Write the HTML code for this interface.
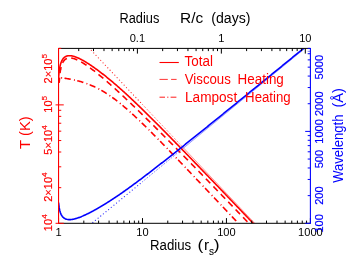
<!DOCTYPE html><html><head><meta charset="utf-8"><title>plot</title>
<style>html,body{margin:0;padding:0;background:#fff;}svg{display:block;font-family:"Liberation Sans",sans-serif;will-change:transform;}</style></head><body>
<svg width="352" height="272" viewBox="0 0 352 272">
<rect width="352" height="272" fill="#fff"/>
<defs><clipPath id="c"><rect x="58.55" y="48.40" width="251.85" height="174.90"/></clipPath></defs>
<g clip-path="url(#c)" fill="none" stroke-linejoin="round">
<path d="M58.55,15.73 L59.18,16.40 L59.81,17.07 L60.44,17.74 L61.07,18.41 L61.71,19.07 L62.34,19.74 L62.97,20.41 L63.60,21.08 L64.23,21.74 L64.86,22.41 L65.49,23.08 L66.12,23.75 L66.76,24.41 L67.39,25.08 L68.02,25.75 L68.65,26.42 L69.28,27.09 L69.91,27.75 L70.54,28.42 L71.17,29.09 L71.81,29.76 L72.44,30.42 L73.07,31.09 L73.70,31.76 L74.33,32.43 L74.96,33.09 L75.59,33.76 L76.22,34.43 L76.85,35.10 L77.49,35.77 L78.12,36.43 L78.75,37.10 L79.38,37.77 L80.01,38.44 L80.64,39.10 L81.27,39.77 L81.90,40.44 L82.54,41.11 L83.17,41.77 L83.80,42.44 L84.43,43.11 L85.06,43.78 L85.69,44.45 L86.32,45.11 L86.95,45.78 L87.59,46.45 L88.22,47.12 L88.85,47.78 L89.48,48.45 L90.11,49.12 L90.74,49.79 L91.37,50.45 L92.00,51.12 L92.63,51.79 L93.27,52.46 L93.90,53.13 L94.53,53.79 L95.16,54.46 L95.79,55.13 L96.42,55.80 L97.05,56.46 L97.68,57.13 L98.32,57.80 L98.95,58.47 L99.58,59.13 L100.21,59.80 L100.84,60.47 L101.47,61.14 L102.10,61.81 L102.73,62.47 L103.37,63.14 L104.00,63.81 L104.63,64.48 L105.26,65.14 L105.89,65.81 L106.52,66.48 L107.15,67.15 L107.78,67.82 L108.42,68.48 L109.05,69.15 L109.68,69.82 L110.31,70.49 L110.94,71.15 L111.57,71.82 L112.20,72.49 L112.83,73.16 L113.46,73.82 L114.10,74.49 L114.73,75.16 L115.36,75.83 L115.99,76.50 L116.62,77.16 L117.25,77.83 L117.88,78.50 L118.51,79.17 L119.15,79.83 L119.78,80.50 L120.41,81.17 L121.04,81.84 L121.67,82.50 L122.30,83.17 L122.93,83.84 L123.56,84.51 L124.20,85.18 L124.83,85.84 L125.46,86.51 L126.09,87.18 L126.72,87.85 L127.35,88.51 L127.98,89.18 L128.61,89.85 L129.24,90.52 L129.88,91.18 L130.51,91.85 L131.14,92.52 L131.77,93.19 L132.40,93.86 L133.03,94.52 L133.66,95.19 L134.29,95.86 L134.93,96.53 L135.56,97.19 L136.19,97.86 L136.82,98.53 L137.45,99.20 L138.08,99.86 L138.71,100.53 L139.34,101.20 L139.98,101.87 L140.61,102.54 L141.24,103.20 L141.87,103.87 L142.50,104.54" stroke="#f00" stroke-width="1.2" stroke-dasharray="0.01 3.4" stroke-linecap="round" stroke-opacity="0.8"/>
<path d="M142.50,104.54 L143.13,105.21 L143.76,105.87 L144.39,106.54 L145.02,107.21 L145.66,107.88 L146.29,108.55 L146.92,109.21 L147.55,109.88 L148.18,110.55 L148.81,111.22 L149.44,111.88 L150.07,112.55 L150.71,113.22 L151.34,113.89 L151.97,114.55 L152.60,115.22 L153.23,115.89 L153.86,116.56 L154.49,117.23 L155.12,117.89 L155.76,118.56 L156.39,119.23 L157.02,119.90 L157.65,120.56 L158.28,121.23 L158.91,121.90 L159.54,122.57 L160.17,123.23 L160.80,123.90 L161.44,124.57 L162.07,125.24 L162.70,125.91 L163.33,126.57 L163.96,127.24 L164.59,127.91 L165.22,128.58 L165.85,129.24 L166.49,129.91 L167.12,130.58 L167.75,131.25 L168.38,131.91 L169.01,132.58 L169.64,133.25 L170.27,133.92 L170.90,134.59 L171.54,135.25 L172.17,135.92 L172.80,136.59 L173.43,137.26 L174.06,137.92 L174.69,138.59 L175.32,139.26 L175.95,139.93 L176.58,140.59 L177.22,141.26 L177.85,141.93 L178.48,142.60 L179.11,143.27 L179.74,143.93" stroke="#f00" stroke-width="1.0" stroke-dasharray="0.01 2.2" stroke-linecap="round" stroke-opacity="0.75"/>
<path d="M180.37,144.60 L181.00,145.27 L181.63,145.94 L182.27,146.60 L182.90,147.27 L183.53,147.94 L184.16,148.61 L184.79,149.27 L185.42,149.94 L186.05,150.61 L186.68,151.28 L187.32,151.95 L187.95,152.61 L188.58,153.28 L189.21,153.95 L189.84,154.62 L190.47,155.28 L191.10,155.95 L191.73,156.62 L192.37,157.29 L193.00,157.96 L193.63,158.62 L194.26,159.29 L194.89,159.96 L195.52,160.63 L196.15,161.29 L196.78,161.96 L197.41,162.63 L198.05,163.30 L198.68,163.96 L199.31,164.63 L199.94,165.30 L200.57,165.97 L201.20,166.64 L201.83,167.30 L202.46,167.97 L203.10,168.64 L203.73,169.31 L204.36,169.97 L204.99,170.64 L205.62,171.31 L206.25,171.98 L206.88,172.64 L207.51,173.31 L208.15,173.98 L208.78,174.65 L209.41,175.32 L210.04,175.98 L210.67,176.65 L211.30,177.32 L211.93,177.99 L212.56,178.65 L213.19,179.32 L213.83,179.99 L214.46,180.66 L215.09,181.32 L215.72,181.99 L216.35,182.66 L216.98,183.33 L217.61,184.00 L218.24,184.66 L218.88,185.33 L219.51,186.00 L220.14,186.67 L220.77,187.33 L221.40,188.00 L222.03,188.67 L222.66,189.34 L223.29,190.00 L223.93,190.67 L224.56,191.34 L225.19,192.01 L225.82,192.68 L226.45,193.34 L227.08,194.01 L227.71,194.68 L228.34,195.35 L228.97,196.01 L229.61,196.68 L230.24,197.35 L230.87,198.02 L231.50,198.68 L232.13,199.35 L232.76,200.02 L233.39,200.69 L234.02,201.36 L234.66,202.02 L235.29,202.69 L235.92,203.36 L236.55,204.03 L237.18,204.69 L237.81,205.36 L238.44,206.03 L239.07,206.70 L239.71,207.37 L240.34,208.03 L240.97,208.70 L241.60,209.37 L242.23,210.04 L242.86,210.70 L243.49,211.37 L244.12,212.04 L244.75,212.71 L245.39,213.37 L246.02,214.04 L246.65,214.71 L247.28,215.38 L247.91,216.05 L248.54,216.71 L249.17,217.38 L249.80,218.05 L250.44,218.72 L251.07,219.38 L251.70,220.05 L252.33,220.72 L252.96,221.39 L253.59,222.05 L254.22,222.72 L254.85,223.39 L255.49,224.06 L256.12,224.73 L256.75,225.39 L257.38,226.06 L258.01,226.73 L258.64,227.40 L259.27,228.06 L259.90,228.73 L260.53,229.40 L261.17,230.07 L261.80,230.73 L262.43,231.40 L263.06,232.07 L263.69,232.74 L264.32,233.41 L264.95,234.07 L265.58,234.74 L266.22,235.41 L266.85,236.08 L267.48,236.74 L268.11,237.41 L268.74,238.08 L269.37,238.75 L270.00,239.41 L270.63,240.08 L271.27,240.75 L271.90,241.42 L272.53,242.09 L273.16,242.75 L273.79,243.42 L274.42,244.09 L275.05,244.76 L275.68,245.42 L276.32,246.09 L276.95,246.76 L277.58,247.43 L278.21,248.09 L278.84,248.76 L279.47,249.43 L280.10,250.10 L280.73,250.77 L281.36,251.43 L282.00,252.10 L282.63,252.77 L283.26,253.44 L283.89,254.10 L284.52,254.77 L285.15,255.44 L285.78,256.11 L286.41,256.78 L287.05,257.44 L287.68,258.11 L288.31,258.78 L288.94,259.45 L289.57,260.11 L290.20,260.78 L290.83,261.45 L291.46,262.12 L292.10,262.78 L292.73,263.45 L293.36,264.12 L293.99,264.79 L294.62,265.46 L295.25,266.12 L295.88,266.79 L296.51,267.46 L297.14,268.13 L297.78,268.79 L298.41,269.46 L299.04,270.13 L299.67,270.80 L300.30,271.46 L300.93,272.13 L301.56,272.80 L302.19,273.47 L302.83,274.14 L303.46,274.80 L304.09,275.47 L304.72,276.14 L305.35,276.81 L305.98,277.47 L306.61,278.14 L307.24,278.81 L307.88,279.48 L308.51,280.14 L309.14,280.81 L309.77,281.48 L310.40,282.15" stroke="#f00" stroke-width="0.8" stroke-opacity="0.55"/>
<path d="M58.55,250.63 L59.18,250.11 L59.81,249.59 L60.44,249.08 L61.07,248.56 L61.71,248.04 L62.34,247.52 L62.97,247.00 L63.60,246.49 L64.23,245.97 L64.86,245.45 L65.49,244.93 L66.12,244.41 L66.76,243.89 L67.39,243.38 L68.02,242.86 L68.65,242.34 L69.28,241.82 L69.91,241.30 L70.54,240.78 L71.17,240.27 L71.81,239.75 L72.44,239.23 L73.07,238.71 L73.70,238.19 L74.33,237.68 L74.96,237.16 L75.59,236.64 L76.22,236.12 L76.85,235.60 L77.49,235.08 L78.12,234.57 L78.75,234.05 L79.38,233.53 L80.01,233.01 L80.64,232.49 L81.27,231.97 L81.90,231.46 L82.54,230.94 L83.17,230.42 L83.80,229.90 L84.43,229.38 L85.06,228.86 L85.69,228.35 L86.32,227.83 L86.95,227.31 L87.59,226.79 L88.22,226.27 L88.85,225.76 L89.48,225.24 L90.11,224.72 L90.74,224.20 L91.37,223.68 L92.00,223.16 L92.63,222.65 L93.27,222.13 L93.90,221.61 L94.53,221.09 L95.16,220.57 L95.79,220.05 L96.42,219.54 L97.05,219.02 L97.68,218.50 L98.32,217.98 L98.95,217.46 L99.58,216.95 L100.21,216.43 L100.84,215.91 L101.47,215.39 L102.10,214.87 L102.73,214.35 L103.37,213.84 L104.00,213.32 L104.63,212.80 L105.26,212.28 L105.89,211.76 L106.52,211.24 L107.15,210.73 L107.78,210.21 L108.42,209.69 L109.05,209.17 L109.68,208.65 L110.31,208.13 L110.94,207.62 L111.57,207.10 L112.20,206.58 L112.83,206.06 L113.46,205.54 L114.10,205.03 L114.73,204.51 L115.36,203.99 L115.99,203.47 L116.62,202.95 L117.25,202.43 L117.88,201.92 L118.51,201.40 L119.15,200.88 L119.78,200.36 L120.41,199.84 L121.04,199.32 L121.67,198.81 L122.30,198.29 L122.93,197.77 L123.56,197.25 L124.20,196.73 L124.83,196.22 L125.46,195.70 L126.09,195.18 L126.72,194.66 L127.35,194.14 L127.98,193.62 L128.61,193.11 L129.24,192.59 L129.88,192.07 L130.51,191.55 L131.14,191.03 L131.77,190.51 L132.40,190.00 L133.03,189.48 L133.66,188.96 L134.29,188.44 L134.93,187.92 L135.56,187.40 L136.19,186.89 L136.82,186.37 L137.45,185.85 L138.08,185.33 L138.71,184.81 L139.34,184.30 L139.98,183.78 L140.61,183.26 L141.24,182.74 L141.87,182.22 L142.50,181.70" stroke="#00f" stroke-width="1.2" stroke-dasharray="0.01 3.4" stroke-linecap="round" stroke-opacity="0.8"/>
<path d="M142.50,181.70 L143.13,181.19 L143.76,180.67 L144.39,180.15 L145.02,179.63 L145.66,179.11 L146.29,178.59 L146.92,178.08 L147.55,177.56 L148.18,177.04 L148.81,176.52 L149.44,176.00 L150.07,175.49 L150.71,174.97 L151.34,174.45 L151.97,173.93 L152.60,173.41 L153.23,172.89 L153.86,172.38 L154.49,171.86 L155.12,171.34 L155.76,170.82 L156.39,170.30 L157.02,169.78 L157.65,169.27 L158.28,168.75 L158.91,168.23 L159.54,167.71 L160.17,167.19 L160.80,166.67 L161.44,166.16 L162.07,165.64 L162.70,165.12 L163.33,164.60 L163.96,164.08 L164.59,163.57 L165.22,163.05 L165.85,162.53 L166.49,162.01 L167.12,161.49 L167.75,160.97 L168.38,160.46 L169.01,159.94 L169.64,159.42 L170.27,158.90 L170.90,158.38 L171.54,157.86 L172.17,157.35 L172.80,156.83 L173.43,156.31 L174.06,155.79 L174.69,155.27 L175.32,154.76 L175.95,154.24 L176.58,153.72 L177.22,153.20 L177.85,152.68 L178.48,152.16 L179.11,151.65 L179.74,151.13" stroke="#00f" stroke-width="1.0" stroke-dasharray="0.01 2.2" stroke-linecap="round" stroke-opacity="0.75"/>
<path d="M180.37,150.61 L181.00,150.09 L181.63,149.57 L182.27,149.05 L182.90,148.54 L183.53,148.02 L184.16,147.50 L184.79,146.98 L185.42,146.46 L186.05,145.94 L186.68,145.43 L187.32,144.91 L187.95,144.39 L188.58,143.87 L189.21,143.35 L189.84,142.84 L190.47,142.32 L191.10,141.80 L191.73,141.28 L192.37,140.76 L193.00,140.24 L193.63,139.73 L194.26,139.21 L194.89,138.69 L195.52,138.17 L196.15,137.65 L196.78,137.13 L197.41,136.62 L198.05,136.10 L198.68,135.58 L199.31,135.06 L199.94,134.54 L200.57,134.02 L201.20,133.51 L201.83,132.99 L202.46,132.47 L203.10,131.95 L203.73,131.43 L204.36,130.92 L204.99,130.40 L205.62,129.88 L206.25,129.36 L206.88,128.84 L207.51,128.32 L208.15,127.81 L208.78,127.29 L209.41,126.77 L210.04,126.25 L210.67,125.73 L211.30,125.21 L211.93,124.70 L212.56,124.18 L213.19,123.66 L213.83,123.14 L214.46,122.62 L215.09,122.11 L215.72,121.59 L216.35,121.07 L216.98,120.55 L217.61,120.03 L218.24,119.51 L218.88,119.00 L219.51,118.48 L220.14,117.96 L220.77,117.44 L221.40,116.92 L222.03,116.40 L222.66,115.89 L223.29,115.37 L223.93,114.85 L224.56,114.33 L225.19,113.81 L225.82,113.29 L226.45,112.78 L227.08,112.26 L227.71,111.74 L228.34,111.22 L228.97,110.70 L229.61,110.19 L230.24,109.67 L230.87,109.15 L231.50,108.63 L232.13,108.11 L232.76,107.59 L233.39,107.08 L234.02,106.56 L234.66,106.04 L235.29,105.52 L235.92,105.00 L236.55,104.48 L237.18,103.97 L237.81,103.45 L238.44,102.93 L239.07,102.41 L239.71,101.89 L240.34,101.38 L240.97,100.86 L241.60,100.34 L242.23,99.82 L242.86,99.30 L243.49,98.78 L244.12,98.27 L244.75,97.75 L245.39,97.23 L246.02,96.71 L246.65,96.19 L247.28,95.67 L247.91,95.16 L248.54,94.64 L249.17,94.12 L249.80,93.60 L250.44,93.08 L251.07,92.56 L251.70,92.05 L252.33,91.53 L252.96,91.01 L253.59,90.49 L254.22,89.97 L254.85,89.46 L255.49,88.94 L256.12,88.42 L256.75,87.90 L257.38,87.38 L258.01,86.86 L258.64,86.35 L259.27,85.83 L259.90,85.31 L260.53,84.79 L261.17,84.27 L261.80,83.75 L262.43,83.24 L263.06,82.72 L263.69,82.20 L264.32,81.68 L264.95,81.16 L265.58,80.65 L266.22,80.13 L266.85,79.61 L267.48,79.09 L268.11,78.57 L268.74,78.05 L269.37,77.54 L270.00,77.02 L270.63,76.50 L271.27,75.98 L271.90,75.46 L272.53,74.94 L273.16,74.43 L273.79,73.91 L274.42,73.39 L275.05,72.87 L275.68,72.35 L276.32,71.83 L276.95,71.32 L277.58,70.80 L278.21,70.28 L278.84,69.76 L279.47,69.24 L280.10,68.73 L280.73,68.21 L281.36,67.69 L282.00,67.17 L282.63,66.65 L283.26,66.13 L283.89,65.62 L284.52,65.10 L285.15,64.58 L285.78,64.06 L286.41,63.54 L287.05,63.02 L287.68,62.51 L288.31,61.99 L288.94,61.47 L289.57,60.95 L290.20,60.43 L290.83,59.92 L291.46,59.40 L292.10,58.88 L292.73,58.36 L293.36,57.84 L293.99,57.32 L294.62,56.81 L295.25,56.29 L295.88,55.77 L296.51,55.25 L297.14,54.73 L297.78,54.21 L298.41,53.70 L299.04,53.18 L299.67,52.66 L300.30,52.14 L300.93,51.62 L301.56,51.10 L302.19,50.59 L302.83,50.07 L303.46,49.55 L304.09,49.03 L304.72,48.51 L305.35,48.00 L305.98,47.48 L306.61,46.96 L307.24,46.44 L307.88,45.92 L308.51,45.40 L309.14,44.89 L309.77,44.37 L310.40,43.85" stroke="#00f" stroke-width="0.8" stroke-opacity="0.55"/>
<path d="M58.55,77.52 L59.18,77.58 L59.81,77.65 L60.44,77.73 L61.07,77.80 L61.71,77.88 L62.34,77.96 L62.97,78.04 L63.60,78.12 L64.23,78.21 L64.86,78.30 L65.49,78.39 L66.12,78.48 L66.76,78.58 L67.39,78.68 L68.02,78.79 L68.65,78.89 L69.28,79.00 L69.91,79.12 L70.54,79.23 L71.17,79.35 L71.81,79.47 L72.44,79.60 L73.07,79.73 L73.70,79.87 L74.33,80.00 L74.96,80.14 L75.59,80.29 L76.22,80.44 L76.85,80.59 L77.49,80.75 L78.12,80.91 L78.75,81.08 L79.38,81.25 L80.01,81.42 L80.64,81.60 L81.27,81.79 L81.90,81.97 L82.54,82.17 L83.17,82.37 L83.80,82.57 L84.43,82.78 L85.06,82.99 L85.69,83.21 L86.32,83.43 L86.95,83.66 L87.59,83.89 L88.22,84.13 L88.85,84.37 L89.48,84.62 L90.11,84.88 L90.74,85.14 L91.37,85.40 L92.00,85.67 L92.63,85.95 L93.27,86.23 L93.90,86.52 L94.53,86.82 L95.16,87.11 L95.79,87.42 L96.42,87.73 L97.05,88.05 L97.68,88.37 L98.32,88.70 L98.95,89.03 L99.58,89.37 L100.21,89.72 L100.84,90.07 L101.47,90.43 L102.10,90.79 L102.73,91.16 L103.37,91.53 L104.00,91.91 L104.63,92.30 L105.26,92.69 L105.89,93.09 L106.52,93.49 L107.15,93.90 L107.78,94.31 L108.42,94.73 L109.05,95.15 L109.68,95.58 L110.31,96.02 L110.94,96.46 L111.57,96.90 L112.20,97.35 L112.83,97.81 L113.46,98.27 L114.10,98.74 L114.73,99.21 L115.36,99.68 L115.99,100.16 L116.62,100.64 L117.25,101.13 L117.88,101.63 L118.51,102.12 L119.15,102.63 L119.78,103.13 L120.41,103.64 L121.04,104.16 L121.67,104.68 L122.30,105.20 L122.93,105.73 L123.56,106.26 L124.20,106.79 L124.83,107.33 L125.46,107.87 L126.09,108.42 L126.72,108.96 L127.35,109.52 L127.98,110.07 L128.61,110.63 L129.24,111.19 L129.88,111.75 L130.51,112.32 L131.14,112.89 L131.77,113.46 L132.40,114.04 L133.03,114.62 L133.66,115.20 L134.29,115.78 L134.93,116.37 L135.56,116.96 L136.19,117.55 L136.82,118.14 L137.45,118.74 L138.08,119.34 L138.71,119.94 L139.34,120.54 L139.98,121.14 L140.61,121.75 L141.24,122.36 L141.87,122.97 L142.50,123.58 L143.13,124.19 L143.76,124.81 L144.39,125.43 L145.02,126.04 L145.66,126.66 L146.29,127.29 L146.92,127.91 L147.55,128.53 L148.18,129.16 L148.81,129.79 L149.44,130.41 L150.07,131.04 L150.71,131.67 L151.34,132.31 L151.97,132.94 L152.60,133.57 L153.23,134.21 L153.86,134.85 L154.49,135.48 L155.12,136.12 L155.76,136.76 L156.39,137.40 L157.02,138.04 L157.65,138.68 L158.28,139.33 L158.91,139.97 L159.54,140.62 L160.17,141.26 L160.80,141.91 L161.44,142.55 L162.07,143.20 L162.70,143.85 L163.33,144.50 L163.96,145.15 L164.59,145.80 L165.22,146.45 L165.85,147.10 L166.49,147.75 L167.12,148.40 L167.75,149.06 L168.38,149.71 L169.01,150.36 L169.64,151.02 L170.27,151.67 L170.90,152.33 L171.54,152.98 L172.17,153.64 L172.80,154.29 L173.43,154.95 L174.06,155.61 L174.69,156.27 L175.32,156.92 L175.95,157.58 L176.58,158.24 L177.22,158.90 L177.85,159.56 L178.48,160.22 L179.11,160.88 L179.74,161.54 L180.37,162.20 L181.00,162.86 L181.63,163.52 L182.27,164.18 L182.90,164.84 L183.53,165.50 L184.16,166.16 L184.79,166.82 L185.42,167.49 L186.05,168.15 L186.68,168.81 L187.32,169.47 L187.95,170.14 L188.58,170.80 L189.21,171.46 L189.84,172.12 L190.47,172.79 L191.10,173.45 L191.73,174.12 L192.37,174.78 L193.00,175.44 L193.63,176.11 L194.26,176.77 L194.89,177.44 L195.52,178.10 L196.15,178.76 L196.78,179.43 L197.41,180.09 L198.05,180.76 L198.68,181.42 L199.31,182.09 L199.94,182.75 L200.57,183.42 L201.20,184.08 L201.83,184.75 L202.46,185.41 L203.10,186.08 L203.73,186.75 L204.36,187.41 L204.99,188.08 L205.62,188.74 L206.25,189.41 L206.88,190.07 L207.51,190.74 L208.15,191.41 L208.78,192.07 L209.41,192.74 L210.04,193.41 L210.67,194.07 L211.30,194.74 L211.93,195.40 L212.56,196.07 L213.19,196.74 L213.83,197.40 L214.46,198.07 L215.09,198.74 L215.72,199.40 L216.35,200.07 L216.98,200.74 L217.61,201.40 L218.24,202.07 L218.88,202.74 L219.51,203.40 L220.14,204.07 L220.77,204.74 L221.40,205.40 L222.03,206.07 L222.66,206.74 L223.29,207.40 L223.93,208.07 L224.56,208.74 L225.19,209.41 L225.82,210.07 L226.45,210.74 L227.08,211.41 L227.71,212.07 L228.34,212.74 L228.97,213.41 L229.61,214.08 L230.24,214.74 L230.87,215.41 L231.50,216.08 L232.13,216.74 L232.76,217.41 L233.39,218.08 L234.02,218.75 L234.66,219.41 L235.29,220.08 L235.92,220.75 L236.55,221.42 L237.18,222.08 L237.81,222.75 L238.44,223.42 L239.07,224.09 L239.71,224.75 L240.34,225.42 L240.97,226.09 L241.60,226.76 L242.23,227.42 L242.86,228.09 L243.49,228.76 L244.12,229.43 L244.75,230.09 L245.39,230.76 L246.02,231.43 L246.65,232.10 L247.28,232.76 L247.91,233.43 L248.54,234.10 L249.17,234.77 L249.80,235.43 L250.44,236.10 L251.07,236.77 L251.70,237.44 L252.33,238.10 L252.96,238.77 L253.59,239.44 L254.22,240.11 L254.85,240.77 L255.49,241.44 L256.12,242.11 L256.75,242.78 L257.38,243.44 L258.01,244.11 L258.64,244.78 L259.27,245.45 L259.90,246.11 L260.53,246.78 L261.17,247.45 L261.80,248.12 L262.43,248.78 L263.06,249.45 L263.69,250.12 L264.32,250.79 L264.95,251.45 L265.58,252.12 L266.22,252.79 L266.85,253.46 L267.48,254.13 L268.11,254.79 L268.74,255.46 L269.37,256.13 L270.00,256.80 L270.63,257.46 L271.27,258.13 L271.90,258.80 L272.53,259.47 L273.16,260.13 L273.79,260.80 L274.42,261.47 L275.05,262.14 L275.68,262.80 L276.32,263.47 L276.95,264.14 L277.58,264.81 L278.21,265.48 L278.84,266.14 L279.47,266.81 L280.10,267.48 L280.73,268.15 L281.36,268.81 L282.00,269.48 L282.63,270.15 L283.26,270.82 L283.89,271.48 L284.52,272.15 L285.15,272.82 L285.78,273.49 L286.41,274.16 L287.05,274.82 L287.68,275.49 L288.31,276.16 L288.94,276.83 L289.57,277.49 L290.20,278.16 L290.83,278.83 L291.46,279.50 L292.10,280.16 L292.73,280.83 L293.36,281.50 L293.99,282.17 L294.62,282.84 L295.25,283.50 L295.88,284.17 L296.51,284.84 L297.14,285.51 L297.78,286.17 L298.41,286.84 L299.04,287.51 L299.67,288.18 L300.30,288.84 L300.93,289.51 L301.56,290.18 L302.19,290.85 L302.83,291.52 L303.46,292.18 L304.09,292.85 L304.72,293.52 L305.35,294.19 L305.98,294.85 L306.61,295.52 L307.24,296.19 L307.88,296.86 L308.51,297.52 L309.14,298.19 L309.77,298.86 L310.40,299.53" stroke="#f00" stroke-width="1.6" stroke-dasharray="6.3 3.3 1 2.4" stroke-dashoffset="7"/>
<path d="M59.18,82.83 L59.81,74.64 L60.44,70.15 L61.07,67.18 L61.71,65.03 L62.34,63.41 L62.97,62.15 L63.60,61.16 L64.23,60.37 L64.86,59.73 L65.49,59.23 L66.12,58.83 L66.76,58.53 L67.39,58.30 L68.02,58.13 L68.65,58.02 L69.28,57.97 L69.91,57.95 L70.54,57.98 L71.17,58.04 L71.81,58.14 L72.44,58.26 L73.07,58.41 L73.70,58.59 L74.33,58.78 L74.96,59.00 L75.59,59.24 L76.22,59.49 L76.85,59.76 L77.49,60.04 L78.12,60.34 L78.75,60.66 L79.38,60.98 L80.01,61.32 L80.64,61.67 L81.27,62.03 L81.90,62.39 L82.54,62.77 L83.17,63.16 L83.80,63.55 L84.43,63.95 L85.06,64.36 L85.69,64.78 L86.32,65.21 L86.95,65.64 L87.59,66.07 L88.22,66.52 L88.85,66.97 L89.48,67.42 L90.11,67.88 L90.74,68.35 L91.37,68.81 L92.00,69.29 L92.63,69.77 L93.27,70.25 L93.90,70.74 L94.53,71.23 L95.16,71.72 L95.79,72.22 L96.42,72.73 L97.05,73.23 L97.68,73.74 L98.32,74.25 L98.95,74.77 L99.58,75.29 L100.21,75.81 L100.84,76.34 L101.47,76.86 L102.10,77.39 L102.73,77.93 L103.37,78.46 L104.00,79.00 L104.63,79.54 L105.26,80.08 L105.89,80.63 L106.52,81.17 L107.15,81.72 L107.78,82.27 L108.42,82.83 L109.05,83.38 L109.68,83.94 L110.31,84.50 L110.94,85.06 L111.57,85.62 L112.20,86.19 L112.83,86.75 L113.46,87.32 L114.10,87.89 L114.73,88.46 L115.36,89.03 L115.99,89.61 L116.62,90.18 L117.25,90.76 L117.88,91.34 L118.51,91.92 L119.15,92.50 L119.78,93.08 L120.41,93.67 L121.04,94.25 L121.67,94.84 L122.30,95.43 L122.93,96.01 L123.56,96.60 L124.20,97.19 L124.83,97.79 L125.46,98.38 L126.09,98.97 L126.72,99.57 L127.35,100.17 L127.98,100.76 L128.61,101.36 L129.24,101.96 L129.88,102.56 L130.51,103.16 L131.14,103.76 L131.77,104.37 L132.40,104.97 L133.03,105.58 L133.66,106.18 L134.29,106.79 L134.93,107.39 L135.56,108.00 L136.19,108.61 L136.82,109.22 L137.45,109.83 L138.08,110.44 L138.71,111.05 L139.34,111.67 L139.98,112.28 L140.61,112.89 L141.24,113.51 L141.87,114.12 L142.50,114.74 L143.13,115.36 L143.76,115.97 L144.39,116.59 L145.02,117.21 L145.66,117.83 L146.29,118.45 L146.92,119.07 L147.55,119.69 L148.18,120.31 L148.81,120.93 L149.44,121.55 L150.07,122.18 L150.71,122.80 L151.34,123.43 L151.97,124.05 L152.60,124.68 L153.23,125.30 L153.86,125.93 L154.49,126.55 L155.12,127.18 L155.76,127.81 L156.39,128.44 L157.02,129.07 L157.65,129.69 L158.28,130.32 L158.91,130.95 L159.54,131.58 L160.17,132.21 L160.80,132.85 L161.44,133.48 L162.07,134.11 L162.70,134.74 L163.33,135.37 L163.96,136.01 L164.59,136.64 L165.22,137.28 L165.85,137.91 L166.49,138.54 L167.12,139.18 L167.75,139.82 L168.38,140.45 L169.01,141.09 L169.64,141.72 L170.27,142.36 L170.90,143.00 L171.54,143.64 L172.17,144.27 L172.80,144.91 L173.43,145.55 L174.06,146.19 L174.69,146.83 L175.32,147.47 L175.95,148.11 L176.58,148.75 L177.22,149.39 L177.85,150.03 L178.48,150.67 L179.11,151.31 L179.74,151.95 L180.37,152.59 L181.00,153.24 L181.63,153.88 L182.27,154.52 L182.90,155.16 L183.53,155.81 L184.16,156.45 L184.79,157.09 L185.42,157.74 L186.05,158.38 L186.68,159.03 L187.32,159.67 L187.95,160.32 L188.58,160.96 L189.21,161.61 L189.84,162.25 L190.47,162.90 L191.10,163.54 L191.73,164.19 L192.37,164.84 L193.00,165.48 L193.63,166.13 L194.26,166.78 L194.89,167.42 L195.52,168.07 L196.15,168.72 L196.78,169.37 L197.41,170.02 L198.05,170.66 L198.68,171.31 L199.31,171.96 L199.94,172.61 L200.57,173.26 L201.20,173.91 L201.83,174.56 L202.46,175.21 L203.10,175.86 L203.73,176.51 L204.36,177.16 L204.99,177.81 L205.62,178.46 L206.25,179.11 L206.88,179.76 L207.51,180.41 L208.15,181.06 L208.78,181.71 L209.41,182.36 L210.04,183.02 L210.67,183.67 L211.30,184.32 L211.93,184.97 L212.56,185.62 L213.19,186.28 L213.83,186.93 L214.46,187.58 L215.09,188.24 L215.72,188.89 L216.35,189.54 L216.98,190.20 L217.61,190.85 L218.24,191.50 L218.88,192.16 L219.51,192.81 L220.14,193.46 L220.77,194.12 L221.40,194.77 L222.03,195.43 L222.66,196.08 L223.29,196.74 L223.93,197.39 L224.56,198.05 L225.19,198.70 L225.82,199.36 L226.45,200.01 L227.08,200.67 L227.71,201.32 L228.34,201.98 L228.97,202.63 L229.61,203.29 L230.24,203.95 L230.87,204.60 L231.50,205.26 L232.13,205.91 L232.76,206.57 L233.39,207.23 L234.02,207.88 L234.66,208.54 L235.29,209.20 L235.92,209.85 L236.55,210.51 L237.18,211.17 L237.81,211.83 L238.44,212.48 L239.07,213.14 L239.71,213.80 L240.34,214.46 L240.97,215.11 L241.60,215.77 L242.23,216.43 L242.86,217.09 L243.49,217.74 L244.12,218.40 L244.75,219.06 L245.39,219.72 L246.02,220.38 L246.65,221.04 L247.28,221.70 L247.91,222.35 L248.54,223.01 L249.17,223.67 L249.80,224.33 L250.44,224.99 L251.07,225.65 L251.70,226.31 L252.33,226.97 L252.96,227.63 L253.59,228.29 L254.22,228.95 L254.85,229.60 L255.49,230.26 L256.12,230.92 L256.75,231.58 L257.38,232.24 L258.01,232.90 L258.64,233.56 L259.27,234.22 L259.90,234.88 L260.53,235.54 L261.17,236.20 L261.80,236.87 L262.43,237.53 L263.06,238.19 L263.69,238.85 L264.32,239.51 L264.95,240.17 L265.58,240.83 L266.22,241.49 L266.85,242.15 L267.48,242.81 L268.11,243.47 L268.74,244.13 L269.37,244.79 L270.00,245.46 L270.63,246.12 L271.27,246.78 L271.90,247.44 L272.53,248.10 L273.16,248.76 L273.79,249.42 L274.42,250.09 L275.05,250.75 L275.68,251.41 L276.32,252.07 L276.95,252.73 L277.58,253.39 L278.21,254.06 L278.84,254.72 L279.47,255.38 L280.10,256.04 L280.73,256.70 L281.36,257.37 L282.00,258.03 L282.63,258.69 L283.26,259.35 L283.89,260.02 L284.52,260.68 L285.15,261.34 L285.78,262.00 L286.41,262.67 L287.05,263.33 L287.68,263.99 L288.31,264.65 L288.94,265.32 L289.57,265.98 L290.20,266.64 L290.83,267.31 L291.46,267.97 L292.10,268.63 L292.73,269.29 L293.36,269.96 L293.99,270.62 L294.62,271.28 L295.25,271.95 L295.88,272.61 L296.51,273.27 L297.14,273.94 L297.78,274.60 L298.41,275.26 L299.04,275.93 L299.67,276.59 L300.30,277.25 L300.93,277.92 L301.56,278.58 L302.19,279.24 L302.83,279.91 L303.46,280.57 L304.09,281.24 L304.72,281.90 L305.35,282.56 L305.98,283.23 L306.61,283.89 L307.24,284.55 L307.88,285.22 L308.51,285.88 L309.14,286.55 L309.77,287.21 L310.40,287.87" stroke="#f00" stroke-width="1.6" stroke-dasharray="6.3 4.4" stroke-dashoffset="1"/>
<path d="M58.55,77.52 L59.18,71.03 L59.81,67.15 L60.44,64.48 L61.07,62.51 L61.71,61.00 L62.34,59.82 L62.97,58.87 L63.60,58.11 L64.23,57.50 L64.86,57.01 L65.49,56.62 L66.12,56.31 L66.76,56.08 L67.39,55.90 L68.02,55.78 L68.65,55.71 L69.28,55.68 L69.91,55.69 L70.54,55.73 L71.17,55.80 L71.81,55.90 L72.44,56.02 L73.07,56.17 L73.70,56.34 L74.33,56.53 L74.96,56.73 L75.59,56.95 L76.22,57.19 L76.85,57.44 L77.49,57.70 L78.12,57.98 L78.75,58.27 L79.38,58.57 L80.01,58.88 L80.64,59.19 L81.27,59.52 L81.90,59.86 L82.54,60.20 L83.17,60.55 L83.80,60.91 L84.43,61.28 L85.06,61.65 L85.69,62.03 L86.32,62.42 L86.95,62.81 L87.59,63.20 L88.22,63.61 L88.85,64.01 L89.48,64.43 L90.11,64.84 L90.74,65.26 L91.37,65.69 L92.00,66.12 L92.63,66.55 L93.27,66.99 L93.90,67.44 L94.53,67.88 L95.16,68.33 L95.79,68.79 L96.42,69.24 L97.05,69.70 L97.68,70.17 L98.32,70.64 L98.95,71.11 L99.58,71.58 L100.21,72.06 L100.84,72.54 L101.47,73.02 L102.10,73.51 L102.73,74.00 L103.37,74.49 L104.00,74.99 L104.63,75.49 L105.26,75.99 L105.89,76.49 L106.52,77.00 L107.15,77.51 L107.78,78.02 L108.42,78.54 L109.05,79.05 L109.68,79.58 L110.31,80.10 L110.94,80.62 L111.57,81.15 L112.20,81.68 L112.83,82.22 L113.46,82.75 L114.10,83.29 L114.73,83.83 L115.36,84.37 L115.99,84.92 L116.62,85.47 L117.25,86.02 L117.88,86.57 L118.51,87.12 L119.15,87.68 L119.78,88.24 L120.41,88.80 L121.04,89.36 L121.67,89.93 L122.30,90.49 L122.93,91.06 L123.56,91.63 L124.20,92.21 L124.83,92.78 L125.46,93.36 L126.09,93.94 L126.72,94.52 L127.35,95.10 L127.98,95.68 L128.61,96.27 L129.24,96.85 L129.88,97.44 L130.51,98.03 L131.14,98.62 L131.77,99.22 L132.40,99.81 L133.03,100.41 L133.66,101.00 L134.29,101.60 L134.93,102.20 L135.56,102.81 L136.19,103.41 L136.82,104.01 L137.45,104.62 L138.08,105.22 L138.71,105.83 L139.34,106.44 L139.98,107.05 L140.61,107.66 L141.24,108.28 L141.87,108.89 L142.50,109.50 L143.13,110.12 L143.76,110.74 L144.39,111.35 L145.02,111.97 L145.66,112.59 L146.29,113.21 L146.92,113.83 L147.55,114.45 L148.18,115.08 L148.81,115.70 L149.44,116.32 L150.07,116.95 L150.71,117.58 L151.34,118.20 L151.97,118.83 L152.60,119.46 L153.23,120.09 L153.86,120.72 L154.49,121.35 L155.12,121.98 L155.76,122.61 L156.39,123.24 L157.02,123.87 L157.65,124.51 L158.28,125.14 L158.91,125.78 L159.54,126.41 L160.17,127.05 L160.80,127.68 L161.44,128.32 L162.07,128.96 L162.70,129.59 L163.33,130.23 L163.96,130.87 L164.59,131.51 L165.22,132.15 L165.85,132.79 L166.49,133.43 L167.12,134.07 L167.75,134.71 L168.38,135.35 L169.01,136.00 L169.64,136.64 L170.27,137.28 L170.90,137.92 L171.54,138.57 L172.17,139.21 L172.80,139.85 L173.43,140.50 L174.06,141.14 L174.69,141.79 L175.32,142.43 L175.95,143.08 L176.58,143.73 L177.22,144.37 L177.85,145.02 L178.48,145.67 L179.11,146.31 L179.74,146.96 L180.37,147.61 L181.00,148.26 L181.63,148.90 L182.27,149.55 L182.90,150.20 L183.53,150.85 L184.16,151.50 L184.79,152.15 L185.42,152.80 L186.05,153.45 L186.68,154.10 L187.32,154.75 L187.95,155.40 L188.58,156.05 L189.21,156.70 L189.84,157.35 L190.47,158.00 L191.10,158.65 L191.73,159.31 L192.37,159.96 L193.00,160.61 L193.63,161.26 L194.26,161.92 L194.89,162.57 L195.52,163.22 L196.15,163.87 L196.78,164.53 L197.41,165.18 L198.05,165.83 L198.68,166.49 L199.31,167.14 L199.94,167.79 L200.57,168.45 L201.20,169.10 L201.83,169.76 L202.46,170.41 L203.10,171.07 L203.73,171.72 L204.36,172.38 L204.99,173.03 L205.62,173.69 L206.25,174.34 L206.88,175.00 L207.51,175.65 L208.15,176.31 L208.78,176.97 L209.41,177.62 L210.04,178.28 L210.67,178.93 L211.30,179.59 L211.93,180.25 L212.56,180.90 L213.19,181.56 L213.83,182.22 L214.46,182.87 L215.09,183.53 L215.72,184.19 L216.35,184.85 L216.98,185.50 L217.61,186.16 L218.24,186.82 L218.88,187.48 L219.51,188.13 L220.14,188.79 L220.77,189.45 L221.40,190.11 L222.03,190.77 L222.66,191.42 L223.29,192.08 L223.93,192.74 L224.56,193.40 L225.19,194.06 L225.82,194.72 L226.45,195.38 L227.08,196.04 L227.71,196.69 L228.34,197.35 L228.97,198.01 L229.61,198.67 L230.24,199.33 L230.87,199.99 L231.50,200.65 L232.13,201.31 L232.76,201.97 L233.39,202.63 L234.02,203.29 L234.66,203.95 L235.29,204.61 L235.92,205.27 L236.55,205.93 L237.18,206.59 L237.81,207.25 L238.44,207.91 L239.07,208.57 L239.71,209.23 L240.34,209.89 L240.97,210.55 L241.60,211.21 L242.23,211.87 L242.86,212.53 L243.49,213.20 L244.12,213.86 L244.75,214.52 L245.39,215.18 L246.02,215.84 L246.65,216.50 L247.28,217.16 L247.91,217.82 L248.54,218.48 L249.17,219.15 L249.80,219.81 L250.44,220.47 L251.07,221.13 L251.70,221.79 L252.33,222.45 L252.96,223.12 L253.59,223.78 L254.22,224.44 L254.85,225.10 L255.49,225.76 L256.12,226.43 L256.75,227.09 L257.38,227.75 L258.01,228.41 L258.64,229.07 L259.27,229.74 L259.90,230.40 L260.53,231.06 L261.17,231.72 L261.80,232.39 L262.43,233.05 L263.06,233.71 L263.69,234.37 L264.32,235.04 L264.95,235.70 L265.58,236.36 L266.22,237.03 L266.85,237.69 L267.48,238.35 L268.11,239.01 L268.74,239.68 L269.37,240.34 L270.00,241.00 L270.63,241.67 L271.27,242.33 L271.90,242.99 L272.53,243.66 L273.16,244.32 L273.79,244.98 L274.42,245.65 L275.05,246.31 L275.68,246.97 L276.32,247.64 L276.95,248.30 L277.58,248.96 L278.21,249.63 L278.84,250.29 L279.47,250.95 L280.10,251.62 L280.73,252.28 L281.36,252.95 L282.00,253.61 L282.63,254.27 L283.26,254.94 L283.89,255.60 L284.52,256.26 L285.15,256.93 L285.78,257.59 L286.41,258.26 L287.05,258.92 L287.68,259.58 L288.31,260.25 L288.94,260.91 L289.57,261.58 L290.20,262.24 L290.83,262.91 L291.46,263.57 L292.10,264.23 L292.73,264.90 L293.36,265.56 L293.99,266.23 L294.62,266.89 L295.25,267.56 L295.88,268.22 L296.51,268.89 L297.14,269.55 L297.78,270.21 L298.41,270.88 L299.04,271.54 L299.67,272.21 L300.30,272.87 L300.93,273.54 L301.56,274.20 L302.19,274.87 L302.83,275.53 L303.46,276.20 L304.09,276.86 L304.72,277.53 L305.35,278.19 L305.98,278.86 L306.61,279.52 L307.24,280.19 L307.88,280.85 L308.51,281.52 L309.14,282.18 L309.77,282.85 L310.40,283.51" stroke="#f00" stroke-width="1.6"/>
<path d="M58.55,202.68 L59.18,207.71 L59.81,210.73 L60.44,212.80 L61.07,214.33 L61.71,215.50 L62.34,216.42 L62.97,217.15 L63.60,217.74 L64.23,218.21 L64.86,218.59 L65.49,218.90 L66.12,219.14 L66.76,219.32 L67.39,219.45 L68.02,219.55 L68.65,219.60 L69.28,219.63 L69.91,219.62 L70.54,219.59 L71.17,219.53 L71.81,219.46 L72.44,219.36 L73.07,219.25 L73.70,219.12 L74.33,218.97 L74.96,218.81 L75.59,218.64 L76.22,218.46 L76.85,218.26 L77.49,218.06 L78.12,217.84 L78.75,217.62 L79.38,217.39 L80.01,217.15 L80.64,216.90 L81.27,216.65 L81.90,216.38 L82.54,216.12 L83.17,215.84 L83.80,215.56 L84.43,215.28 L85.06,214.99 L85.69,214.70 L86.32,214.40 L86.95,214.09 L87.59,213.79 L88.22,213.47 L88.85,213.16 L89.48,212.84 L90.11,212.52 L90.74,212.19 L91.37,211.86 L92.00,211.52 L92.63,211.19 L93.27,210.85 L93.90,210.50 L94.53,210.16 L95.16,209.81 L95.79,209.45 L96.42,209.10 L97.05,208.74 L97.68,208.38 L98.32,208.02 L98.95,207.65 L99.58,207.29 L100.21,206.91 L100.84,206.54 L101.47,206.17 L102.10,205.79 L102.73,205.41 L103.37,205.03 L104.00,204.64 L104.63,204.25 L105.26,203.86 L105.89,203.47 L106.52,203.08 L107.15,202.68 L107.78,202.29 L108.42,201.89 L109.05,201.48 L109.68,201.08 L110.31,200.67 L110.94,200.27 L111.57,199.86 L112.20,199.44 L112.83,199.03 L113.46,198.61 L114.10,198.20 L114.73,197.78 L115.36,197.35 L115.99,196.93 L116.62,196.51 L117.25,196.08 L117.88,195.65 L118.51,195.22 L119.15,194.79 L119.78,194.36 L120.41,193.92 L121.04,193.48 L121.67,193.04 L122.30,192.60 L122.93,192.16 L123.56,191.72 L124.20,191.28 L124.83,190.83 L125.46,190.38 L126.09,189.93 L126.72,189.48 L127.35,189.03 L127.98,188.58 L128.61,188.12 L129.24,187.67 L129.88,187.21 L130.51,186.75 L131.14,186.30 L131.77,185.84 L132.40,185.37 L133.03,184.91 L133.66,184.45 L134.29,183.98 L134.93,183.52 L135.56,183.05 L136.19,182.58 L136.82,182.11 L137.45,181.64 L138.08,181.17 L138.71,180.70 L139.34,180.23 L139.98,179.75 L140.61,179.28 L141.24,178.80 L141.87,178.33 L142.50,177.85 L143.13,177.37 L143.76,176.89 L144.39,176.42 L145.02,175.94 L145.66,175.45 L146.29,174.97 L146.92,174.49 L147.55,174.01 L148.18,173.52 L148.81,173.04 L149.44,172.56 L150.07,172.07 L150.71,171.58 L151.34,171.10 L151.97,170.61 L152.60,170.12 L153.23,169.64 L153.86,169.15 L154.49,168.66 L155.12,168.17 L155.76,167.68 L156.39,167.19 L157.02,166.70 L157.65,166.20 L158.28,165.71 L158.91,165.22 L159.54,164.73 L160.17,164.23 L160.80,163.74 L161.44,163.25 L162.07,162.75 L162.70,162.26 L163.33,161.76 L163.96,161.27 L164.59,160.77 L165.22,160.27 L165.85,159.78 L166.49,159.28 L167.12,158.78 L167.75,158.28 L168.38,157.79 L169.01,157.29 L169.64,156.79 L170.27,156.29 L170.90,155.79 L171.54,155.29 L172.17,154.79 L172.80,154.29 L173.43,153.79 L174.06,153.29 L174.69,152.79 L175.32,152.29 L175.95,151.79 L176.58,151.29 L177.22,150.79 L177.85,150.29 L178.48,149.78 L179.11,149.28 L179.74,148.78 L180.37,148.28 L181.00,147.77 L181.63,147.27 L182.27,146.77 L182.90,146.26 L183.53,145.76 L184.16,145.26 L184.79,144.75 L185.42,144.25 L186.05,143.74 L186.68,143.24 L187.32,142.73 L187.95,142.23 L188.58,141.72 L189.21,141.22 L189.84,140.71 L190.47,140.21 L191.10,139.70 L191.73,139.20 L192.37,138.69 L193.00,138.18 L193.63,137.68 L194.26,137.17 L194.89,136.66 L195.52,136.16 L196.15,135.65 L196.78,135.14 L197.41,134.64 L198.05,134.13 L198.68,133.62 L199.31,133.11 L199.94,132.61 L200.57,132.10 L201.20,131.59 L201.83,131.08 L202.46,130.57 L203.10,130.07 L203.73,129.56 L204.36,129.05 L204.99,128.54 L205.62,128.03 L206.25,127.52 L206.88,127.02 L207.51,126.51 L208.15,126.00 L208.78,125.49 L209.41,124.98 L210.04,124.47 L210.67,123.96 L211.30,123.45 L211.93,122.94 L212.56,122.43 L213.19,121.92 L213.83,121.41 L214.46,120.90 L215.09,120.39 L215.72,119.88 L216.35,119.37 L216.98,118.86 L217.61,118.35 L218.24,117.84 L218.88,117.33 L219.51,116.82 L220.14,116.31 L220.77,115.80 L221.40,115.29 L222.03,114.78 L222.66,114.27 L223.29,113.75 L223.93,113.24 L224.56,112.73 L225.19,112.22 L225.82,111.71 L226.45,111.20 L227.08,110.69 L227.71,110.18 L228.34,109.66 L228.97,109.15 L229.61,108.64 L230.24,108.13 L230.87,107.62 L231.50,107.11 L232.13,106.59 L232.76,106.08 L233.39,105.57 L234.02,105.06 L234.66,104.54 L235.29,104.03 L235.92,103.52 L236.55,103.01 L237.18,102.50 L237.81,101.98 L238.44,101.47 L239.07,100.96 L239.71,100.45 L240.34,99.93 L240.97,99.42 L241.60,98.91 L242.23,98.39 L242.86,97.88 L243.49,97.37 L244.12,96.86 L244.75,96.34 L245.39,95.83 L246.02,95.32 L246.65,94.80 L247.28,94.29 L247.91,93.78 L248.54,93.26 L249.17,92.75 L249.80,92.24 L250.44,91.72 L251.07,91.21 L251.70,90.70 L252.33,90.18 L252.96,89.67 L253.59,89.15 L254.22,88.64 L254.85,88.13 L255.49,87.61 L256.12,87.10 L256.75,86.59 L257.38,86.07 L258.01,85.56 L258.64,85.04 L259.27,84.53 L259.90,84.02 L260.53,83.50 L261.17,82.99 L261.80,82.47 L262.43,81.96 L263.06,81.44 L263.69,80.93 L264.32,80.42 L264.95,79.90 L265.58,79.39 L266.22,78.87 L266.85,78.36 L267.48,77.84 L268.11,77.33 L268.74,76.81 L269.37,76.30 L270.00,75.78 L270.63,75.27 L271.27,74.76 L271.90,74.24 L272.53,73.73 L273.16,73.21 L273.79,72.70 L274.42,72.18 L275.05,71.67 L275.68,71.15 L276.32,70.64 L276.95,70.12 L277.58,69.61 L278.21,69.09 L278.84,68.58 L279.47,68.06 L280.10,67.55 L280.73,67.03 L281.36,66.52 L282.00,66.00 L282.63,65.48 L283.26,64.97 L283.89,64.45 L284.52,63.94 L285.15,63.42 L285.78,62.91 L286.41,62.39 L287.05,61.88 L287.68,61.36 L288.31,60.85 L288.94,60.33 L289.57,59.82 L290.20,59.30 L290.83,58.78 L291.46,58.27 L292.10,57.75 L292.73,57.24 L293.36,56.72 L293.99,56.21 L294.62,55.69 L295.25,55.17 L295.88,54.66 L296.51,54.14 L297.14,53.63 L297.78,53.11 L298.41,52.60 L299.04,52.08 L299.67,51.56 L300.30,51.05 L300.93,50.53 L301.56,50.02 L302.19,49.50 L302.83,48.98 L303.46,48.47 L304.09,47.95 L304.72,47.44 L305.35,46.92 L305.98,46.40 L306.61,45.89 L307.24,45.37 L307.88,44.86 L308.51,44.34 L309.14,43.82 L309.77,43.31 L310.40,42.79" stroke="#00f" stroke-width="1.6"/>
</g>
<path d="M58.55,223.30v-5.20M83.82,223.30v-2.70M98.60,223.30v-2.70M109.09,223.30v-2.70M117.23,223.30v-2.70M123.88,223.30v-2.70M129.50,223.30v-2.70M134.36,223.30v-2.70M138.66,223.30v-2.70M142.50,223.30v-5.20M167.77,223.30v-2.70M182.55,223.30v-2.70M193.04,223.30v-2.70M201.18,223.30v-2.70M207.83,223.30v-2.70M213.45,223.30v-2.70M218.31,223.30v-2.70M222.61,223.30v-2.70M226.45,223.30v-5.20M251.72,223.30v-2.70M266.50,223.30v-2.70M276.99,223.30v-2.70M285.13,223.30v-2.70M291.78,223.30v-2.70M297.40,223.30v-2.70M302.26,223.30v-2.70M306.56,223.30v-2.70M310.40,223.30v-5.20" stroke="#000" stroke-width="1" fill="none"/>
<path d="M78.72,48.40v2.70M93.50,48.40v2.70M103.99,48.40v2.70M112.13,48.40v2.70M118.78,48.40v2.70M124.40,48.40v2.70M129.26,48.40v2.70M133.56,48.40v2.70M137.40,48.40v5.20M162.67,48.40v2.70M177.45,48.40v2.70M187.94,48.40v2.70M196.08,48.40v2.70M202.73,48.40v2.70M208.35,48.40v2.70M213.21,48.40v2.70M217.51,48.40v2.70M221.35,48.40v5.20M246.62,48.40v2.70M261.40,48.40v2.70M271.89,48.40v2.70M280.03,48.40v2.70M286.68,48.40v2.70M292.30,48.40v2.70M297.16,48.40v2.70M301.46,48.40v2.70M305.30,48.40v5.20" stroke="#000" stroke-width="1" fill="none"/>
<path d="M58.55,48.40H310.40 M58.55,223.30H310.40" stroke="#000" stroke-width="1" fill="none"/>
<path d="M58.55,47.90V223.80" stroke="#f00" stroke-width="1.1" fill="none"/>
<path d="M310.40,47.90V223.80" stroke="#00f" stroke-width="1.1" fill="none"/>
<path d="M55.55,223.30h8.20M58.55,187.66h2.70M58.55,166.81h2.70M58.55,152.01h2.70M58.55,140.54h2.70M58.55,131.16h2.70M58.55,123.24h2.70M58.55,116.37h2.70M58.55,110.31h2.70M55.55,104.89h8.20M58.55,69.25h2.70M58.55,48.40h2.70" stroke="#f00" stroke-width="1" fill="none"/>
<path d="M310.40,223.30h-5.20M310.40,195.63h-2.70M310.40,179.45h-2.70M310.40,167.97h-2.70M310.40,159.06h-2.70M310.40,151.79h-2.70M310.40,145.63h-2.70M310.40,140.30h-2.70M310.40,135.60h-2.70M310.40,131.40h-5.20M310.40,103.73h-2.70M310.40,87.55h-2.70M310.40,76.07h-2.70M310.40,67.16h-2.70M310.40,59.88h-2.70M310.40,53.73h-2.70M310.40,48.40h-2.70" stroke="#00f" stroke-width="1" fill="none"/>
<path d="M310.40,51.35h-2.7" stroke="#00f" stroke-width="1" stroke-opacity="0.5"/>
<text transform="translate(58.55 236.20) scale(1.110 1)" font-size="10.00" fill="#000" stroke="#fff" stroke-width="0.00" text-anchor="middle">1</text>
<text transform="translate(142.50 236.20) scale(1.110 1)" font-size="10.00" fill="#000" stroke="#fff" stroke-width="0.00" text-anchor="middle">10</text>
<text transform="translate(226.45 236.20) scale(1.110 1)" font-size="10.00" fill="#000" stroke="#fff" stroke-width="0.00" text-anchor="middle">100</text>
<text transform="translate(310.40 236.20) scale(1.110 1)" font-size="10.00" fill="#000" stroke="#fff" stroke-width="0.00" text-anchor="middle">1000</text>
<text transform="translate(137.40 41.60) scale(1.110 1)" font-size="10.00" fill="#000" stroke="#fff" stroke-width="0.00" text-anchor="middle">0.1</text>
<text transform="translate(221.35 41.60) scale(1.110 1)" font-size="10.00" fill="#000" stroke="#fff" stroke-width="0.00" text-anchor="middle">1</text>
<text transform="translate(305.30 41.60) scale(1.110 1)" font-size="10.00" fill="#000" stroke="#fff" stroke-width="0.00" text-anchor="middle">10</text>
<text transform="translate(119.50 23.30)" font-size="14.00" fill="#000" stroke="#fff" stroke-width="0.00" text-anchor="start" textLength="39.80" lengthAdjust="spacingAndGlyphs">Radius</text>
<text transform="translate(180.00 23.30)" font-size="14.00" fill="#000" stroke="#fff" stroke-width="0.00" text-anchor="start" textLength="23.20" lengthAdjust="spacingAndGlyphs">R/c</text>
<text transform="translate(211.20 23.30)" font-size="14.00" fill="#000" stroke="#fff" stroke-width="0.00" text-anchor="start" textLength="39.30" lengthAdjust="spacingAndGlyphs">(days)</text>
<text transform="translate(150.00 249.90)" font-size="14.00" fill="#000" stroke="#fff" stroke-width="0.00" text-anchor="start" textLength="41.20" lengthAdjust="spacingAndGlyphs">Radius</text>
<text transform="translate(197.60 249.90) scale(1.250 1)" font-size="14.00" fill="#000" stroke="#fff" stroke-width="0.00" text-anchor="start">(</text>
<text transform="translate(203.90 249.90) scale(1.100 1)" font-size="14.00" fill="#000" stroke="#fff" stroke-width="0.00" text-anchor="start">r</text>
<text transform="translate(209.00 254.80)" font-size="10.00" fill="#000" stroke="#000" stroke-width="0.10" text-anchor="start">s</text>
<text transform="translate(213.80 249.90) scale(1.250 1)" font-size="14.00" fill="#000" stroke="#fff" stroke-width="0.00" text-anchor="start">)</text>
<text transform="translate(51.60 222.70) rotate(-90) scale(1.110 1)" font-size="10.00" fill="#f00" stroke="#f00" stroke-width="0.18" text-anchor="middle">10<tspan font-size="7.5" dy="-4.8">4</tspan></text>
<text transform="translate(51.60 187.06) rotate(-90) scale(1.110 1)" font-size="10.00" fill="#f00" stroke="#f00" stroke-width="0.18" text-anchor="middle">2×10<tspan font-size="7.5" dy="-4.8">4</tspan></text>
<text transform="translate(51.60 139.94) rotate(-90) scale(1.110 1)" font-size="10.00" fill="#f00" stroke="#f00" stroke-width="0.18" text-anchor="middle">5×10<tspan font-size="7.5" dy="-4.8">4</tspan></text>
<text transform="translate(51.60 104.29) rotate(-90) scale(1.110 1)" font-size="10.00" fill="#f00" stroke="#f00" stroke-width="0.18" text-anchor="middle">10<tspan font-size="7.5" dy="-4.8">5</tspan></text>
<text transform="translate(51.60 68.65) rotate(-90) scale(1.110 1)" font-size="10.00" fill="#f00" stroke="#f00" stroke-width="0.18" text-anchor="middle">2×10<tspan font-size="7.5" dy="-4.8">5</tspan></text>
<text transform="translate(30.20 148.90) rotate(-90)" font-size="14.00" fill="#f00" stroke="#fff" stroke-width="0.00" text-anchor="start" textLength="32.60" lengthAdjust="spacingAndGlyphs">T (K)</text>
<text transform="translate(322.70 223.30) rotate(-90) scale(1.110 1)" font-size="10.00" fill="#00f" stroke="#00f" stroke-width="0.18" text-anchor="middle">100</text>
<text transform="translate(322.70 195.63) rotate(-90) scale(1.110 1)" font-size="10.00" fill="#00f" stroke="#00f" stroke-width="0.18" text-anchor="middle">200</text>
<text transform="translate(322.70 159.06) rotate(-90) scale(1.110 1)" font-size="10.00" fill="#00f" stroke="#00f" stroke-width="0.18" text-anchor="middle">500</text>
<text transform="translate(322.70 131.40) rotate(-90) scale(1.110 1)" font-size="10.00" fill="#00f" stroke="#00f" stroke-width="0.18" text-anchor="middle">1000</text>
<text transform="translate(322.70 103.73) rotate(-90) scale(1.110 1)" font-size="10.00" fill="#00f" stroke="#00f" stroke-width="0.18" text-anchor="middle">2000</text>
<text transform="translate(322.70 67.16) rotate(-90) scale(1.110 1)" font-size="10.00" fill="#00f" stroke="#00f" stroke-width="0.18" text-anchor="middle">5000</text>
<text transform="translate(342.60 182.80) rotate(-90)" font-size="14.00" fill="#00f" stroke="#fff" stroke-width="0.00" text-anchor="start" textLength="68.20" lengthAdjust="spacingAndGlyphs">Wavelength</text>
<text transform="translate(342.60 107.50) rotate(-90)" font-size="14.00" fill="#00f" stroke="#fff" stroke-width="0.00" text-anchor="start" textLength="19.50" lengthAdjust="spacingAndGlyphs">(Å)</text>
<path d="M159.5,62.5H178.8" stroke="#f00" stroke-width="1.1"/>
<path d="M159.5,79.4H178.8" stroke="#f00" stroke-width="0.8" stroke-dasharray="8.3 3.3 5.5 10"/>
<path d="M159.5,97.2H178.8" stroke="#f00" stroke-width="0.9" stroke-dasharray="5.5 2.2 1.2 2.2 5.8 10"/>
<text transform="translate(184.60 66.40)" font-size="14.00" fill="#f00" stroke="#fff" stroke-width="0.00" text-anchor="start" textLength="28.30" lengthAdjust="spacingAndGlyphs">Total</text>
<text transform="translate(184.80 84.00)" font-size="14.00" fill="#f00" stroke="#fff" stroke-width="0.00" text-anchor="start" textLength="46.00" lengthAdjust="spacingAndGlyphs">Viscous</text>
<text transform="translate(237.60 84.00)" font-size="14.00" fill="#f00" stroke="#fff" stroke-width="0.00" text-anchor="start" textLength="46.20" lengthAdjust="spacingAndGlyphs">Heating</text>
<text transform="translate(185.00 101.50)" font-size="14.00" fill="#f00" stroke="#fff" stroke-width="0.00" text-anchor="start" textLength="52.20" lengthAdjust="spacingAndGlyphs">Lampost</text>
<text transform="translate(245.10 101.50)" font-size="14.00" fill="#f00" stroke="#fff" stroke-width="0.00" text-anchor="start" textLength="45.60" lengthAdjust="spacingAndGlyphs">Heating</text>
</svg></body></html>
